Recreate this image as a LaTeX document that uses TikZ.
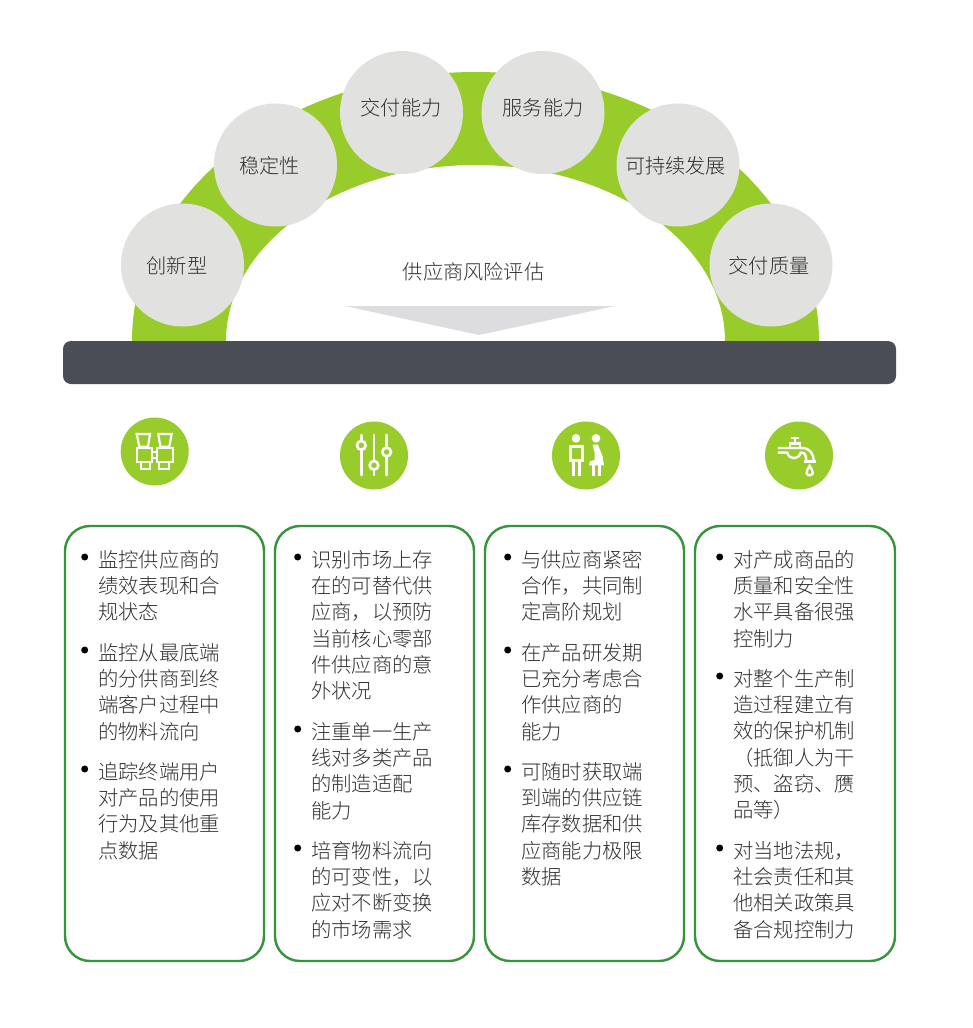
\documentclass[tikz,border=0pt]{standalone}
\usepackage{fontspec}
\setmainfont{Noto Sans CJK SC Light}
\definecolor{lime}{HTML}{98CC2B}
\definecolor{disc}{HTML}{E1E1DF}
\definecolor{trig}{HTML}{DDDDDF}
\definecolor{barc}{HTML}{4A4D55}
\definecolor{boxg}{HTML}{35943C}
\definecolor{txt}{HTML}{303030}
\tikzset{
 discnode/.style={circle,fill=disc,minimum size=123pt,inner sep=0pt},
 disclab/.style={text=txt,inner sep=0pt,font=\fontsize{20.2}{20}\selectfont},
 ring/.style={circle,fill=lime,minimum size=68pt,inner sep=0pt},
 cardbox/.style={draw=boxg,line width=2.4pt,rounded corners=25pt,fill=white,minimum height=435pt,inner sep=0pt},
 cardtxt/.style={anchor=north west,inner sep=0pt,text=txt,font=\fontsize{20.3}{26.3}\selectfont,align=left},
 bul/.style={circle,fill=black,minimum size=7pt,inner sep=0pt},
 ico/.style={draw=white,line width=2.6pt,line cap=butt,line join=miter},
}
\newcommand{\cardlines}[3]{\node[bul] at (#1-13.3,#2+4) {}; \node[cardtxt] at (#1,#2-3) {#3};}
\begin{document}
\begin{tikzpicture}[x=1pt,y=-1pt]
\useasboundingbox (0,0) rectangle (972,1028);
\fill[white] (0,0) rectangle (972,1028);
% arch
\begin{scope}
\clip (100,0) rectangle (860,345);
\fill[lime,even odd rule] (475.5,341) ellipse[x radius=343.5,y radius=269] (475.5,341) ellipse[x radius=249.5,y radius=176];
\end{scope}
% triangle
\fill[trig] (345,306) -- (615,306) -- (479,335) -- cycle;
\node[disclab] (t) at (473.5,272) {供应商风险评估};
% bar
\node[fill=barc,rounded corners=8pt,minimum width=833pt,minimum height=43pt,inner sep=0pt] (bar) at (479.5,362.5) {};
% discs
\node[discnode] (d1) at (182.5,265) {};
\node[discnode] (d2) at (275.5,165) {};
\node[discnode] (d3) at (401.5,112.5) {};
\node[discnode] (d4) at (543,112.5) {};
\node[discnode] (d5) at (678,165) {};
\node[discnode] (d6) at (771,265) {};
\node[disclab] (l1) at (177,266) {创新型};
\node[disclab] (l2) at (269.5,166) {稳定性};
\node[disclab] (l3) at (401,108) {交付能力};
\node[disclab] (l4) at (543,108) {服务能力};
\node[disclab] (l5) at (675.5,166) {可持续发展};
\node[disclab] (l6) at (769,266) {交付质量};
% icon discs
\node[ring] (i1) at (154.7,451.5) {};
\node[ring] (i2) at (374,455.5) {};
\node[ring] (i3) at (586,455.5) {};
\node[ring] (i4) at (799,455.5) {};
% binoculars
\begin{scope}[shift={(120,420)},x=0.3333pt,y=-0.3333pt,ico,line width=2.2pt]
\draw (50,42) -- (90,42) -- (84,80) -- (58,80) -- cycle;
\draw (115,42) -- (155,42) -- (148,80) -- (121,80) -- cycle;
\draw (50,84) -- (95,84) -- (95,125) -- (50,125) -- cycle;
\draw (110,84) -- (158,84) -- (158,125) -- (110,125) -- cycle;
\draw (62,125) -- (62,148) -- (90,148) -- (90,125);
\draw (118,125) -- (118,148) -- (146,148) -- (146,125);
\draw (95,95) -- (110,95) (95,113) -- (110,113);
\end{scope}
% sliders
\begin{scope}[shift={(100,410)},x=0.3333pt,y=-0.3333pt,ico,line cap=round]
\draw (784,75) -- (784,92) (784,120) -- (784,195);
\draw (822,75) -- (822,152) (822,180) -- (822,195);
\draw (860,75) -- (860,112) (860,140) -- (860,195);
\draw (784,106) circle[radius=13];
\draw (822,166) circle[radius=13];
\draw (860,126) circle[radius=13];
\end{scope}
% people
\begin{scope}[shift={(530,410)},x=0.3333pt,y=-0.3333pt,ico,line width=3pt]
\fill[white] (138,85) circle[radius=13] (198,85) circle[radius=13];
\draw (122,108) rectangle (156,152);
\draw (130,152) -- (130,198) (148,152) -- (148,198);
\fill[white] (188,104) -- (204,104) -- (218,140) -- (222,166) -- (177,166) -- (180,154) -- (194,150) -- (194,128) -- cycle;
\draw (190,166) -- (190,198) (208,166) -- (208,198);
\end{scope}
% tap
\begin{scope}[shift={(530,410)},x=0.3333pt,y=-0.3333pt,ico,line width=2.4pt]
\draw (782,84) -- (808,84) (795,84) -- (795,100);
\draw (780,114) -- (780,100) -- (810,100) -- (810,114);
\draw (744,114) -- (815,114) .. controls (840,114) and (851,130) .. (851,154);
\draw (744,128) -- (772,128) .. controls (778,150) and (806,150) .. (812,128) -- (816,128) .. controls (826,128) and (829,140) .. (829,154);
\draw (822,154) -- (858,154);
\draw (839,168) .. controls (833,178) and (828,184) .. (830,190) .. controls (832,198) and (846,198) .. (848,190) .. controls (850,184) and (845,178) .. (839,168) -- cycle;
\end{scope}
% cards
\node[cardbox,minimum width=199pt] (c1) at (164.5,743.5) {};
\node[cardbox,minimum width=199pt] (c2) at (374.5,743.5) {};
\node[cardbox,minimum width=199pt] (c3) at (584.5,743.5) {};
\node[cardbox,minimum width=200pt] (c4) at (795,743.5) {};
% card 1
\cardlines{98}{553}{监控供应商的\\绩效表现和合\\规状态}
\cardlines{98}{646}{监控从最底端\\的分供商到终\\端客户过程中\\的物料流向}
\cardlines{98}{765}{追踪终端用户\\对产品的使用\\行为及其他重\\点数据}
% card 2
\cardlines{311}{553}{识别市场上存\\在的可替代供\\应商，以预防\\当前核心零部\\件供应商的意\\外状况}
\cardlines{311}{725}{注重单一生产\\线对多类产品\\的制造适配\\能力}
\cardlines{311}{844}{培育物料流向\\的可变性，以\\应对不断变换\\的市场需求}
% card 3
\cardlines{521}{553}{与供应商紧密\\合作，共同制\\定高阶规划}
\cardlines{521}{646}{在产品研发期\\已充分考虑合\\作供应商的\\能力}
\cardlines{521}{765}{可随时获取端\\到端的供应链\\库存数据和供\\应商能力极限\\数据}
% card 4
\cardlines{733}{553}{对产成商品的\\质量和安全性\\水平具备很强\\控制力}
\cardlines{733}{672}{对整个生产制\\造过程建立有\\效的保护机制\\（抵御人为干\\预、盗窃、赝\\品等）}
\cardlines{733}{844}{对当地法规，\\社会责任和其\\他相关政策具\\备合规控制力}
\end{tikzpicture}
\end{document}
